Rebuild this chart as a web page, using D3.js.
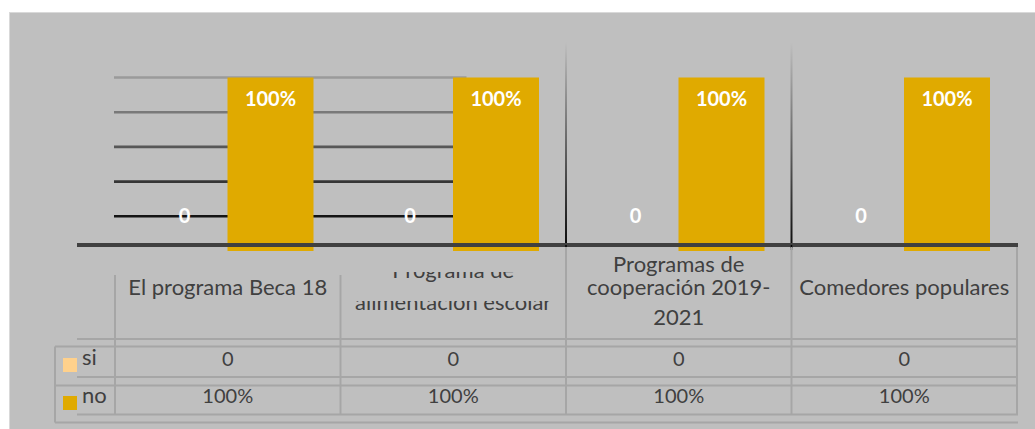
<!DOCTYPE html>
<html><head><meta charset="utf-8">
<script src="https://cdn.jsdelivr.net/npm/d3@7"></script>
<style>
html,body{margin:0;padding:0;background:#fff;}
svg{display:block;}
text{font-family:Lato,"Open Sans",sans-serif;}
</style></head>
<body>
<svg id="chart" width="1035" height="429"></svg>
<script>
const categories = ["El programa Beca 18","Programa de alimentación escolar","Programas de cooperación 2019-2021","Comedores populares"];
const categoryLines = [["El programa Beca 18"],["Programa de","alimentación escolar"],["Programas de","cooperación 2019-","2021"],["Comedores populares"]];
const seriesNames = ["si","no"];
const siValues = [0,0,0,0];
const noValues = [1,1,1,1];
const siLabels = ["0","0","0","0"];
const noLabels = ["100%","100%","100%","100%"];
const gridValues = [0.2,0.4,0.6,0.8,1.0];
const colors = {si:"#FFD18C", no:"#E0AA00"};

const svg = d3.select("#chart");
svg.append("rect").attr("x",9).attr("y",12).attr("width",1026).attr("height",417).attr("fill","#BFBFBF");
svg.append("line").attr("x1",9).attr("x2",1035).attr("y1",12.5).attr("y2",12.5).attr("stroke","#D9D9D9").attr("stroke-width",1);
svg.append("line").attr("x1",9.5).attr("x2",9.5).attr("y1",12).attr("y2",429).attr("stroke","#D9D9D9").attr("stroke-width",1);

const x = d3.scaleBand().domain(categories).range([115,1017]).padding(0);
const xs = d3.scaleBand().domain(seriesNames).range([26.5, 198.5]).padding(0);
const y = d3.scaleLinear().domain([0,1]).range([251,77.5]);

// gridlines (partial, graded)
const gridColors = d3.scaleLinear().domain([0.2,1.0]).range(["#141414","#9A9A9A"]);
const gridEnd = x(categories[1]) + 126;
svg.append("g").selectAll("line").data(gridValues).join("line")
  .attr("x1", x.range()[0]-1).attr("x2", gridEnd)
  .attr("y1", d=>y(d)).attr("y2", d=>y(d))
  .attr("stroke", d=>gridColors(d)).attr("stroke-width",2.6);

// vertical separators with gradient
const defs = svg.append("defs");
const grad = defs.append("linearGradient").attr("id","vg").attr("x1",0).attr("x2",0).attr("y1",0).attr("y2",1);
grad.append("stop").attr("offset","0%").attr("stop-color","#BFBFBF");
grad.append("stop").attr("offset","100%").attr("stop-color","#0A0A0A");
svg.append("g").selectAll("rect").data(categories.slice(2)).join("rect")
  .attr("x", d=>x(d)-1).attr("width",2)
  .attr("y", 42).attr("height", y(0)-3-42)
  .attr("fill","url(#vg)");

// bars
const groups = svg.append("g").selectAll("g").data(categories).join("g")
  .attr("transform", d=>`translate(${x(d)},0)`);
groups.append("rect")
  .attr("x", xs("si")).attr("width", xs.bandwidth())
  .attr("y", (d,i)=>y(siValues[i])).attr("height",(d,i)=>y(0)-y(siValues[i]))
  .attr("fill", colors.si);
groups.append("rect")
  .attr("x", xs("no")).attr("width", xs.bandwidth())
  .attr("y", (d,i)=>y(noValues[i])).attr("height",(d,i)=>y(0)-y(noValues[i]))
  .attr("fill", colors.no);

// axis baseline
svg.append("line").attr("x1",77).attr("x2",x.range()[1]+1)
  .attr("y1",y(0)-6).attr("y2",y(0)-6).attr("stroke","#404040").attr("stroke-width",4);
// ticks below axis at separators
svg.append("g").selectAll("line").data(categories.slice(2)).join("line")
  .attr("x1", d=>x(d)).attr("x2", d=>x(d)).attr("y1", y(0)-6).attr("y2", y(0)-1)
  .attr("stroke","#000").attr("stroke-width",1.5);

// data labels
groups.append("text")
  .attr("x", xs("si")+xs.bandwidth()/2).attr("y",(d,i)=>y(siValues[i])-35)
  .attr("dy","0.35em").attr("text-anchor","middle")
  .attr("fill","#fff").attr("font-weight","bold").attr("font-size",20)
  .text((d,i)=>siLabels[i]);
groups.append("text")
  .attr("x", xs("no")+xs.bandwidth()/2).attr("y",(d,i)=>y(noValues[i])+21)
  .attr("dy","0.35em").attr("text-anchor","middle")
  .attr("fill","#fff").attr("font-weight","bold").attr("font-size",20)
  .text((d,i)=>noLabels[i]);

// data table
const tcol = "#A6A6A6";
const T = svg.append("g");
const xEnd = x.range()[1];
const hLines = [[77,339],[55,346.5],[77,377],[55,385.5],[77,414.5],[55,422.5]];
T.selectAll("line.h").data(hLines).join("line").attr("class","h")
  .attr("x1",d=>d[0]).attr("x2",xEnd+1).attr("y1",d=>d[1]).attr("y2",d=>d[1])
  .attr("stroke",tcol).attr("stroke-width",2);
T.append("line").attr("x1",55).attr("x2",55).attr("y1",346.5).attr("y2",422.5).attr("stroke",tcol).attr("stroke-width",2);
const colEdges = categories.map(c=>x(c)).concat([xEnd]);
T.selectAll("line.v").data(colEdges).join("line").attr("class","v")
  .attr("x1",d=>d).attr("x2",d=>d)
  .attr("y1",(d,i)=> i<2 ? 275 : y(0)-4).attr("y2",414.5)
  .attr("stroke",tcol).attr("stroke-width",2);

// category labels (with clipping for middle cell)
const lineBaselines = [[295],[278,310],[271.7,295,325],[295]];
const clipTops = [[null],[272,301],[null,null,null],[null]];
categoryLines.forEach((lines,ci)=>{
  lines.forEach((ln,li)=>{
    const cx = x(categories[ci]) + x.bandwidth()/2;
    const t = T.append("text").attr("x",cx).attr("y",lineBaselines[ci][li])
      .attr("text-anchor","middle").attr("fill","#404040").attr("font-size",22).text(ln);
    const ct = clipTops[ci][li];
    if (ct !== null) {
      const id = `clip${ci}_${li}`;
      defs.append("clipPath").attr("id",id).append("rect")
        .attr("x",x(categories[ci])).attr("width",x.bandwidth())
        .attr("y",ct).attr("height",40);
      t.attr("clip-path",`url(#${id})`);
    }
  });
});

// table values
categories.forEach((c,i)=>{
  const cx = x(c)+x.bandwidth()/2;
  T.append("text").attr("x",cx).attr("y",366).attr("text-anchor","middle").attr("fill","#404040").attr("font-size",20).text(siLabels[i]);
  T.append("text").attr("x",cx).attr("y",403).attr("text-anchor","middle").attr("fill","#404040").attr("font-size",20).text(noLabels[i]);
});

// legend keys
const legendY = {si:358, no:396};
seriesNames.forEach(s=>{
  T.append("rect").attr("x",63).attr("y",legendY[s]).attr("width",14).attr("height",14).attr("fill",colors[s]);
  T.append("text").attr("x",82).attr("y",legendY[s]+7).attr("fill","#404040").attr("font-size",22).text(s);
});
</script>
</body></html>
